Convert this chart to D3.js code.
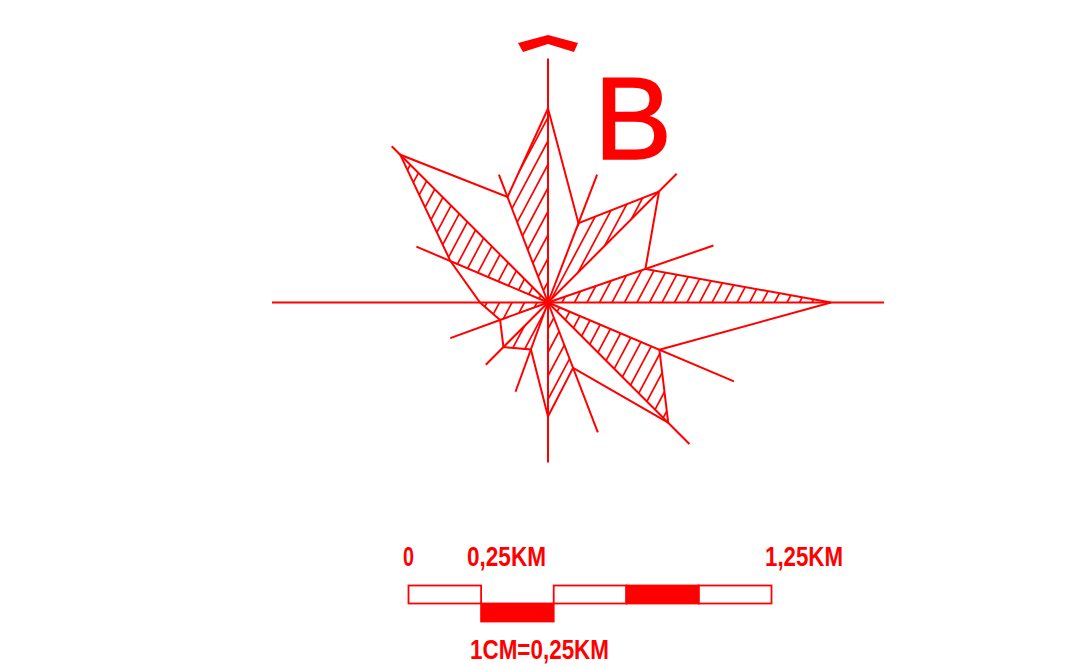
<!DOCTYPE html>
<html>
<head>
<meta charset="utf-8">
<script src="https://cdn.jsdelivr.net/npm/d3@7"></script>
<style>
  html, body { margin: 0; padding: 0; background: #fff; }
  svg { display: block; }
  text { fill: #ff0000; }
  .lbl { font-family: "Liberation Sans", sans-serif; font-weight: bold; font-size: 28px; }
</style>
</head>
<body>
<div class="canvas"></div>
<script>
// rose values, clockwise from north
const directions = ["N", "NNE", "NE", "ENE", "E", "ESE", "SE", "SSE", "S", "SSW", "SW", "WSW", "W", "WNW", "NW", "NNW"];
const bearings = [0, 21, 45, 71, 90, 113, 135, 159, 180, 200, 225, 250, 270, 293, 315, 339];
const petalValues = [194, 85, 157, 103, 283, 121, 170, 70, 114, 50, 63, 51, 68, 106, 209, 113];
const spokeValues = [244, 137, 182, 175, 336, 202, 200, 139, 160, 95, 88, 104, 276, 143, 221, 137];

// petals with hatching: pairs of direction indexes
const hatchedPairs = [[15, 0], [1, 2], [3, 4], [5, 6], [7, 8], [9, 10], [11, 12], [13, 14]];

// scale bar
const barTicks = [0, 0.25, 0.5, 0.75, 1, 1.25];
const barFilled = [false, true, false, true, false];
const barLowered = [false, true, false, false, false];
const barLabels = ["0", "0,25KM", "1,25KM"];
const barCaption = "1CM=0,25KM";
const roseLetter = "B";

const RED = "#ff0000";
const svgWidth = 1083, svgHeight = 667;
const cx = 548, cy = 302.5;

const svg = d3.select(".canvas").append("svg")
  .attr("width", svgWidth)
  .attr("height", svgHeight);

const angle = d3.scaleLinear().domain([0, 360]).range([0, 2 * Math.PI]);
const radius = d3.scaleLinear().domain([0, 340]).range([0, 340]);
const barX = d3.scaleLinear().domain([0, 1.25]).range([408.5, 771.5]);

const rose = svg.append("g").attr("transform", `translate(${cx},${cy})`);

function polar(i, v) {
  const a = angle(bearings[i]);
  return [radius(v) * Math.sin(a), -radius(v) * Math.cos(a)];
}

// hatching, clipped to each petal triangle
const defs = svg.append("defs");
const tri = d3.line();
hatchedPairs.forEach((p, k) => {
  defs.append("clipPath").attr("id", "petal" + k)
    .append("path")
    .attr("d", tri([[0, 0], polar(p[0], petalValues[p[0]]), polar(p[1], petalValues[p[1]])]) + "Z");
});

const hatchStep = 12.5, hatchSlope = 1.88, hatchPhase = 1.5;
const hatchOffsets = d3.range(-40, 40).map(n => n * hatchStep + hatchPhase);

hatchedPairs.forEach((p, k) => {
  rose.append("g").attr("clip-path", `url(#petal${k})`)
    .selectAll("line")
    .data(hatchOffsets)
    .join("line")
    .attr("x1", d => d - 300 / hatchSlope)
    .attr("y1", 300)
    .attr("x2", d => d + 300 / hatchSlope)
    .attr("y2", -300)
    .attr("stroke", RED)
    .attr("stroke-width", 1.7);
});

// spokes
rose.selectAll(".spoke")
  .data(directions)
  .join("line")
  .attr("class", "spoke")
  .attr("x1", 0)
  .attr("y1", 0)
  .attr("x2", (d, i) => polar(i, spokeValues[i])[0])
  .attr("y2", (d, i) => polar(i, spokeValues[i])[1])
  .attr("stroke", RED)
  .attr("stroke-width", 2);

// outline of the rose
const outline = d3.lineRadial()
  .angle((d, i) => angle(bearings[i]))
  .radius(d => radius(d))
  .curve(d3.curveLinearClosed);

rose.append("path")
  .attr("d", outline(petalValues))
  .attr("fill", "none")
  .attr("stroke", RED)
  .attr("stroke-width", 2)
  .attr("stroke-linejoin", "miter");

// north arrow
rose.append("path")
  .attr("d", "M-30,-259.5L0,-267.5L30,-259.5L26,-250.5L0,-258.5L-25,-250.5Z")
  .attr("fill", RED);

svg.append("text")
  .attr("x", 594)
  .attr("y", 158.5)
  .attr("font-family", "Liberation Sans")
  .attr("font-size", 117)
  .attr("stroke", RED)
  .attr("stroke-width", 1.5)
  .text(roseLetter);

// scale bar
const bar = svg.append("g");
bar.selectAll("rect")
  .data(barFilled)
  .join("rect")
  .attr("x", (d, i) => barX(barTicks[i]))
  .attr("y", (d, i) => barLowered[i] ? 603.5 : 585.5)
  .attr("width", (d, i) => barX(barTicks[i + 1]) - barX(barTicks[i]))
  .attr("height", 18)
  .attr("fill", d => d ? RED : "#fff")
  .attr("stroke", RED)
  .attr("stroke-width", 1.8);

// label widths squeezed to the narrow lettering of the original
const labelX = [403, 467, 765];
const labelW = [11, 79, 78];
bar.selectAll(".lbl-top")
  .data(barLabels)
  .join("text")
  .attr("class", "lbl lbl-top")
  .attr("x", (d, i) => labelX[i])
  .attr("y", 566)
  .attr("textLength", (d, i) => labelW[i])
  .attr("lengthAdjust", "spacingAndGlyphs")
  .text(d => d);

bar.append("text")
  .attr("class", "lbl")
  .attr("x", 470)
  .attr("y", 659)
  .attr("textLength", 139)
  .attr("lengthAdjust", "spacingAndGlyphs")
  .text(barCaption);
</script>
</body>
</html>
